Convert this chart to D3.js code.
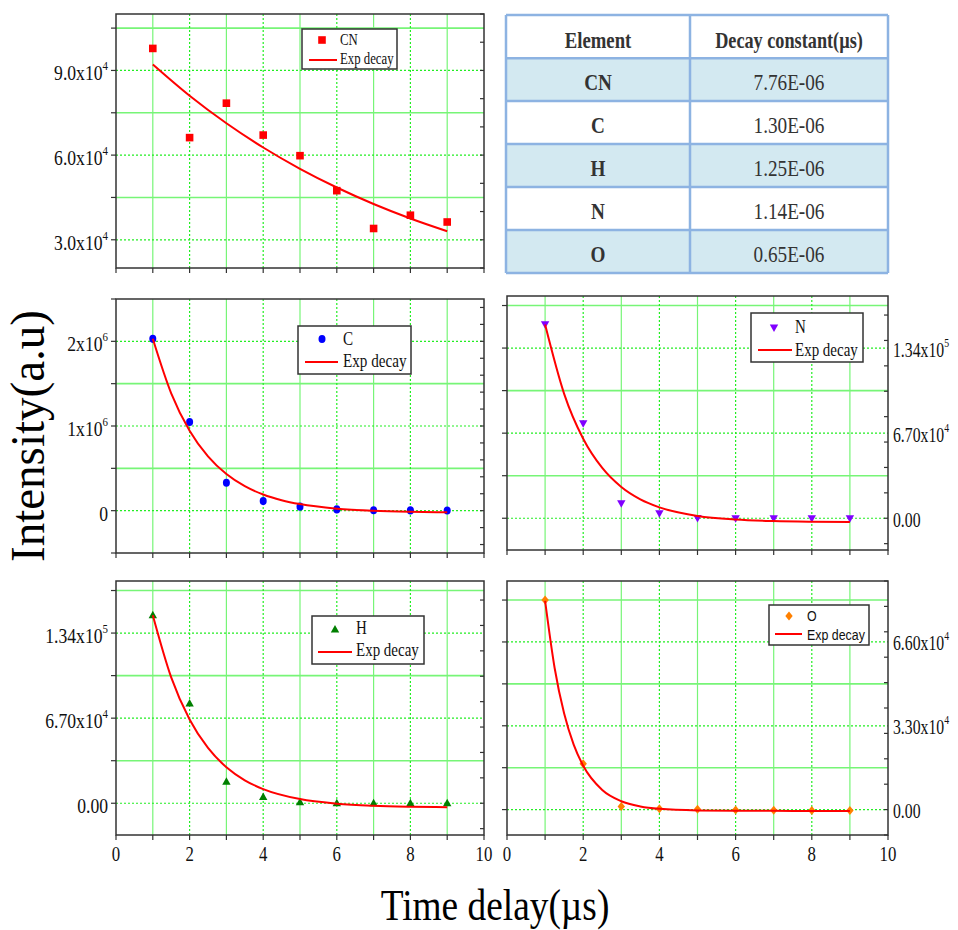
<!DOCTYPE html>
<html><head><meta charset="utf-8">
<script src="https://cdn.jsdelivr.net/npm/d3@7"></script>
<style>body{margin:0;background:#fff}svg{display:block}</style>
</head><body>
<svg id="chart" width="958" height="930"></svg>
<script>
// ---------------- DATA ----------------
const timeDelay = [1, 2, 3, 4, 5, 6, 7, 8, 9];

const cnIntensity = [97800, 66200, 78400, 67100, 59800, 47400, 34000, 38700, 36300];
const cIntensity  = [2030000, 1047000, 330000, 113000, 47000, 15000, 5000, 3000, 2000];
const nIntensity  = [152300, 74300, 11300, 3500, -200, -500, -500, -500, -500];
const hIntensity  = [148500, 79100, 17500, 5300, 1300, 500, 400, 400, 400];
const oIntensity  = [82500, 18100, 1200, 300, 100, -200, -300, -400, -400];

// fitted exponential-decay curves
const cnFitX = [1, 2, 3, 4, 5, 6, 7, 8, 9];
const cnFit  = [92100, 81020, 71280, 62700, 55160, 48530, 42690, 37560, 33040];
const cFitX  = [1, 1.5, 2, 2.5, 3, 3.5, 4, 4.5, 5, 6, 7, 8, 9];
const cFit   = [2030000, 1386000, 944000, 641000, 432000, 289000, 191000, 124000, 77500, 24000, -1400, -13400, -19000];
const nFitX  = [1, 1.5, 2, 2.5, 3, 3.5, 4, 5, 6, 7, 8, 9];
const nFit   = [152500, 97980, 62600, 39600, 24640, 14900, 8600, 1810, -1050, -2260, -2775, -2990];
const hFitX  = [1, 1.5, 2, 2.5, 3, 3.5, 4, 5, 6, 7, 8, 9];
const hFit   = [148000, 99070, 65930, 43520, 28350, 18090, 11150, 3270, -335, -1990, -2740, -3090];
const oFitX  = [1, 1.25, 1.5, 1.75, 2, 2.5, 3, 3.5, 4, 5, 6, 7, 8, 9];
const oFit   = [82150, 55760, 37790, 25560, 17240, 7715, 3300, 1256, 308, -334, -470, -500, -505, -510];

// axis domains and ticks
const xDomain = [0, 10];
const xTicks = [0, 2, 4, 6, 8, 10];
const xTickLabels = ["0", "2", "4", "6", "8", "10"];

const cnDomain = [20000, 110000];
const cnTicks = [30000, 60000, 90000];
const cnTickLabels = ["3.0x10^4", "6.0x10^4", "9.0x10^4"];
const cDomain = [-500000, 2500000];
const cTicks = [0, 1000000, 2000000];
const cTickLabels = ["0", "1x10^6", "2x10^6"];
const nDomain = [-25000, 175000];
const nTicks = [0, 67000, 134000];
const nTickLabels = ["0.00", "6.70x10^4", "1.34x10^5"];
const hDomain = [-25000, 175000];
const hTicks = [0, 67000, 134000];
const hTickLabels = ["0.00", "6.70x10^4", "1.34x10^5"];
const oDomain = [-10000, 90000];
const oTicks = [0, 33000, 66000];
const oTickLabels = ["0.00", "3.30x10^4", "6.60x10^4"];

// table
const tableHeader = ["Element", "Decay constant(\u00b5s)"];
const tableElements = ["CN", "C", "H", "N", "O"];
const tableDecay = ["7.76E-06", "1.30E-06", "1.25E-06", "1.14E-06", "0.65E-06"];

const fitLabel = "Exp decay";
const xTitle = "Time delay(\u00b5s)";
const yTitle = "Intensity(a.u)";

// ---------------- DRAWING ----------------
const svg = d3.select("#chart");
const SERIF = '"Liberation Serif","Times New Roman",serif';
const SANS = '"Liberation Sans",Arial,sans-serif';
const GRID_MAJOR = "#22ee22";
const GRID_MINOR = "#77f577";

const leftX = d3.scaleLinear(xDomain, [116, 484]);
const rightX = d3.scaleLinear(xDomain, [507, 888]);

const panels = [
  {name:"CN", vals:cnIntensity, fx:cnFitX, fy:cnFit, domain:cnDomain, ticks:cnTicks, labels:cnTickLabels,
   x:leftX, y0:14, y1:268, side:"left", showX:false, marker:"square", color:"#ff0000",
   legend:{bx:302, by:29, bw:95, bh:40, mx:322, my:40, tx:340, t1:45, t2:64, lx1:309, lx2:337, ly:60, fs:16, sx:0.8, font:SERIF}},
  {name:"C", vals:cIntensity, fx:cFitX, fy:cFit, domain:cDomain, ticks:cTicks, labels:cTickLabels,
   x:leftX, y0:299, y1:553, side:"left", showX:false, marker:"circle", color:"#0000ff",
   legend:{bx:298, by:326, bw:113, bh:48, mx:322, my:339, tx:343, t1:345, t2:367, lx1:305, lx2:338, ly:362, fs:18.5, sx:0.82, font:SERIF}},
  {name:"N", vals:nIntensity, fx:nFitX, fy:nFit, domain:nDomain, ticks:nTicks, labels:nTickLabels,
   x:rightX, y0:296, y1:550, side:"right", showX:false, marker:"triDown", color:"#8000ff",
   legend:{bx:751, by:313, bw:112, bh:49, mx:774, my:328, tx:795, t1:333, t2:356, lx1:758, lx2:792, ly:350, fs:18.5, sx:0.81, font:SERIF}},
  {name:"H", vals:hIntensity, fx:hFitX, fy:hFit, domain:hDomain, ticks:hTicks, labels:hTickLabels,
   x:leftX, y0:581, y1:835, side:"left", showX:true, marker:"triUp", color:"#007f00",
   legend:{bx:312, by:616, bw:112, bh:48, mx:335, my:629, tx:356, t1:634, t2:656, lx1:318, lx2:352, ly:652, fs:18.5, sx:0.81, font:SERIF}},
  {name:"O", vals:oIntensity, fx:oFitX, fy:oFit, domain:oDomain, ticks:oTicks, labels:oTickLabels,
   x:rightX, y0:581, y1:835, side:"right", showX:true, marker:"diamond", color:"#ff8000",
   legend:{bx:769, by:605, bw:100, bh:40, mx:789, my:616, tx:807, t1:621, t2:640, lx1:775, lx2:802, ly:634, fs:15.5, sx:0.8, font:SANS}}
];

function markerPath(type) {
  switch (type) {
    case "square": return "M-3.8,-3.8H3.8V3.8H-3.8Z";
    case "circle": return "M-3.5,0A3.5,4.1 0 1,0 3.5,0A3.5,4.1 0 1,0 -3.5,0Z";
    case "triDown": return "M-4.2,-3.6L4.2,-3.6L0,3.9Z";
    case "triUp": return "M-4.2,3.6L4.2,3.6L0,-3.9Z";
    case "diamond": return "M0,-4.5L3.7,0L0,4.5L-3.7,0Z";
  }
}

function tickLabel(g, x, y, label, anchor, sx) {
  const parts = label.split("^");
  const t = g.append("text")
    .attr("transform", `translate(${x},${y}) scale(${sx},1)`)
    .attr("text-anchor", anchor)
    .style("font-family", SERIF).style("font-size", "21px").attr("fill", "#111");
  t.append("tspan").text(parts[0]);
  if (parts[1]) t.append("tspan").attr("dy", -10).style("font-size", "13px").text(parts[1]);
}

panels.forEach(p => {
  const g = svg.append("g");
  const x = p.x;
  const y = d3.scaleLinear(p.domain, [p.y1, p.y0]);
  const [xl, xr] = x.range();
  const step = p.ticks[1] - p.ticks[0];
  const minors = [];
  for (let v = p.ticks[0] - step / 2; v <= p.domain[1] + 1e-9; v += step) {
    if (v >= p.domain[0] - 1e-9) minors.push(v);
  }
  const xInts = d3.range(xDomain[0], xDomain[1] + 1);

  // grid - minor (solid)
  g.append("g").selectAll("line").data(minors.filter(v => y(v) > p.y0 + 1 && y(v) < p.y1 - 1)).join("line")
    .attr("x1", xl).attr("x2", xr).attr("y1", d => y(d)).attr("y2", d => y(d))
    .attr("stroke", GRID_MINOR).attr("stroke-width", 1.6);
  g.append("g").selectAll("line").data(xInts.filter(v => v % 2 === 1)).join("line")
    .attr("x1", d => x(d)).attr("x2", d => x(d)).attr("y1", p.y0).attr("y2", p.y1)
    .attr("stroke", GRID_MINOR).attr("stroke-width", 1.2);
  // grid - major (dotted)
  g.append("g").selectAll("line").data(p.ticks).join("line")
    .attr("x1", xl).attr("x2", xr).attr("y1", d => y(d)).attr("y2", d => y(d))
    .attr("stroke", GRID_MAJOR).attr("stroke-width", 1.2).attr("stroke-dasharray", "2,2");
  g.append("g").selectAll("line").data(xInts.filter(v => v % 2 === 0 && v > 0 && v < 10)).join("line")
    .attr("x1", d => x(d)).attr("x2", d => x(d)).attr("y1", p.y0).attr("y2", p.y1)
    .attr("stroke", GRID_MAJOR).attr("stroke-width", 1.2).attr("stroke-dasharray", "2,2");

  // frame
  g.append("rect").attr("x", xl).attr("y", p.y0).attr("width", xr - xl).attr("height", p.y1 - p.y0)
    .attr("fill", "none").attr("stroke", "#333").attr("stroke-width", 1.5);

  // bottom ticks (outward)
  g.append("g").selectAll("line").data(xInts).join("line")
    .attr("x1", d => x(d)).attr("x2", d => x(d)).attr("y1", p.y1).attr("y2", p.y1 + 5)
    .attr("stroke", "#333").attr("stroke-width", 1.2);
  // left ticks (outward) at major + minor
  g.append("g").selectAll("line").data(p.ticks.concat(minors)).join("line")
    .attr("x1", xl - 5).attr("x2", xl).attr("y1", d => y(d)).attr("y2", d => y(d))
    .attr("stroke", "#333").attr("stroke-width", 1.2);
  // right ticks (inward)
  g.append("g").selectAll("line").data(y.ticks(10)).join("line")
    .attr("x1", xr - 4).attr("x2", xr).attr("y1", d => y(d)).attr("y2", d => y(d))
    .attr("stroke", "#333").attr("stroke-width", 1.2);

  // y labels
  p.ticks.forEach((v, i) => {
    if (p.side === "left") tickLabel(g, 108, y(v) + 10, p.labels[i], "end", 0.84);
    else tickLabel(g, 893, y(v) + 8.5, p.labels[i], "start", 0.75);
  });
  // x labels
  if (p.showX) {
    xTicks.forEach((v, i) => {
      tickLabel(g, x(v), 861, xTickLabels[i], "middle", 0.8);
    });
  }

  // markers
  g.append("g").selectAll("path").data(timeDelay).join("path")
    .attr("d", markerPath(p.marker))
    .attr("transform", (d, i) => `translate(${x(d)},${y(p.vals[i])})`)
    .attr("fill", p.color);

  // fit line
  const line = d3.line().x(d => x(d[0])).y(d => y(d[1])).curve(d3.curveMonotoneX);
  g.append("path").datum(p.fx.map((v, i) => [v, p.fy[i]]))
    .attr("d", line).attr("fill", "none").attr("stroke", "#ff0000").attr("stroke-width", 2);

  // legend
  const L = p.legend;
  const lg = svg.append("g");
  lg.append("rect").attr("x", L.bx).attr("y", L.by).attr("width", L.bw).attr("height", L.bh)
    .attr("fill", "#fff").attr("stroke", "#333").attr("stroke-width", 1.5);
  lg.append("path").attr("d", markerPath(p.marker)).attr("transform", `translate(${L.mx},${L.my})`).attr("fill", p.color);
  lg.append("line").attr("x1", L.lx1).attr("x2", L.lx2).attr("y1", L.ly).attr("y2", L.ly)
    .attr("stroke", "#ff0000").attr("stroke-width", 2);
  lg.append("text").attr("transform", `translate(${L.tx},${L.t1}) scale(${L.sx},1)`)
    .style("font-family", L.font).style("font-size", L.fs + "px").attr("fill", "#111").text(p.name);
  lg.append("text").attr("transform", `translate(${L.tx},${L.t2}) scale(${L.sx},1)`)
    .style("font-family", L.font).style("font-size", L.fs + "px").attr("fill", "#111").text(fitLabel);
});

// ---------------- TABLE ----------------
const tb = svg.append("g");
const colX = [506, 690, 888];
const rowY = [15, 58.3, 101, 144, 187, 230, 273];
const ROW_FILL = "#d3e9f1";
const BORDER = "#8db3e2";
rowY.slice(0, -1).forEach((ry, i) => {
  tb.append("rect").attr("x", colX[0]).attr("y", ry).attr("width", colX[2] - colX[0]).attr("height", rowY[i + 1] - ry)
    .attr("fill", i % 2 === 1 ? ROW_FILL : "#fff");
});
rowY.forEach(ry => tb.append("line").attr("x1", colX[0]).attr("x2", colX[2]).attr("y1", ry).attr("y2", ry)
  .attr("stroke", BORDER).attr("stroke-width", 2.5));
colX.forEach(cx => tb.append("line").attr("x1", cx).attr("x2", cx).attr("y1", rowY[0]).attr("y2", rowY[rowY.length - 1])
  .attr("stroke", BORDER).attr("stroke-width", 2.5));
const colC = [(colX[0] + colX[1]) / 2, (colX[1] + colX[2]) / 2];
function cellText(cx, by, txt, bold, sx) {
  tb.append("text").attr("transform", `translate(${cx},${by}) scale(${sx},1)`).attr("text-anchor", "middle")
    .style("font-family", SERIF).style("font-size", "24px").style("font-weight", bold ? "bold" : "normal")
    .attr("fill", "#333").text(txt);
}
cellText(colC[0], 48, tableHeader[0], true, 0.78);
cellText(colC[1], 48, tableHeader[1], true, 0.76);
tableElements.forEach((el, i) => {
  const by = (rowY[i + 1] + rowY[i + 2]) / 2 + 10.5;
  cellText(colC[0], by, el, true, 0.8);
  cellText(colC[1], by, tableDecay[i], false, 0.8);
});

// ---------------- AXIS TITLES ----------------
svg.append("text").attr("transform", "translate(495,920) scale(0.83,1)").attr("text-anchor", "middle")
  .style("font-family", SERIF).style("font-size", "45px").attr("fill", "#000").text(xTitle);
svg.append("text").attr("transform", "translate(44,436) rotate(-90) scale(0.98,1)").attr("text-anchor", "middle")
  .style("font-family", SERIF).style("font-size", "48px").attr("fill", "#000").text(yTitle);
</script>
</body></html>
